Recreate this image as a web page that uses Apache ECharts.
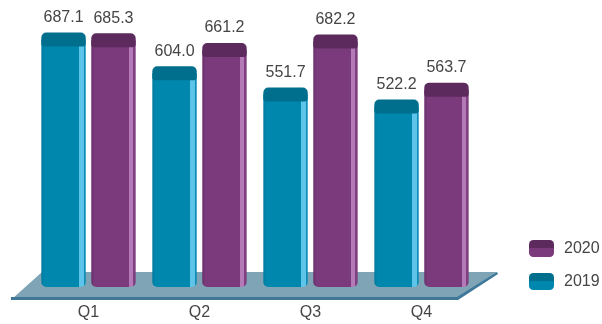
<!DOCTYPE html>
<html>
<head>
<meta charset="utf-8">
<style>html,body{margin:0;padding:0;background:#fff}#c{width:602px;height:324px}</style>
<script src="https://cdn.jsdelivr.net/npm/echarts@6/dist/echarts.min.js"></script>
</head>
<body>
<div id="c"></div>
<script>
var categories = ['Q1', 'Q2', 'Q3', 'Q4'];
var values2019 = [687.1, 604.0, 551.7, 522.2];
var values2020 = [685.3, 661.2, 682.2, 563.7];
var legendNames = ['2020', '2019'];

var G = echarts.graphic;
var textColor = '#454545';
var font = '"Liberation Sans", Arial, sans-serif';

function bodyFill(c) {
  return new G.LinearGradient(0, 0, 1, 0, [
    {offset: 0, color: c.edge}, {offset: 0.07, color: c.body},
    {offset: 0.84, color: c.body}, {offset: 0.84, color: c.strip},
    {offset: 0.95, color: c.strip}, {offset: 0.95, color: c.right},
    {offset: 1, color: c.right}
  ]);
}
function legendFill(c) {
  return new G.LinearGradient(0, 0, 0, 1, [
    {offset: 0, color: c.cap}, {offset: 0.45, color: c.cap},
    {offset: 0.45, color: c.body}, {offset: 1, color: c.body}
  ]);
}
var teal = {body: '#0087AD', edge: '#007A9E', strip: '#5FC4EA', right: '#0C8DB8', cap: '#006F8D'};
var purple = {body: '#7A3A7B', edge: '#6A2F6C', strip: '#B47AB8', right: '#7F3F80', cap: '#5D2A5E'};

function barRenderer(c, dir) {
  return function (params, api) {
    var idx = api.value(0), val = api.value(1);
    var band = api.size([1, 0])[0];
    var w = band * 0.4;
    var cx = api.coord([idx, 0])[0] + dir * band * 0.225;
    var top = api.coord([idx, val])[1];
    var bottom = params.coordSys.y + params.coordSys.height;
    var x = cx - w / 2;
    return {
      type: 'group',
      children: [
        {type: 'rect', shape: {x: x, y: top + 7, width: w, height: bottom - top - 7, r: [0, 0, 5, 5]},
          style: {fill: bodyFill(c)}},
        {type: 'rect', shape: {x: x, y: top, width: w, height: 14, r: [5, 5, 3, 3]}, style: {fill: c.cap}},
        {type: 'text', x: cx, y: top - 15,
          style: {text: val.toFixed(1), fill: textColor, font: '16px ' + font, align: 'center', verticalAlign: 'middle'}}
      ]
    };
  };
}

function floorRenderer(params) {
  var s = params.coordSys, l = s.x, r = s.x + s.width, b = s.y + s.height;
  return {
    type: 'group',
    children: [
      {type: 'polygon', shape: {points: [[l - 21, b + 12], [l + 9, b - 15], [r + 20, b - 15], [r - 20, b + 13], [r - 20, b + 12]]},
        style: {fill: '#7FA4B5'}},
      {type: 'polygon', shape: {points: [[l - 22, b + 10], [r - 20, b + 10], [r + 20, b - 15], [r + 21, b - 13], [r - 19, b + 13], [l - 22, b + 13]]},
        style: {fill: '#40789A'}}
    ]
  };
}

function series(name, vals, c, dir) {
  return {
    type: 'custom', name: name, coordinateSystem: 'cartesian2d', clip: false, z: 3,
    itemStyle: {color: legendFill(c)},
    encode: {x: 0, y: 1},
    data: vals.map(function (v, i) { return [i, v]; }),
    renderItem: barRenderer(c, dir)
  };
}

var chart = echarts.init(document.getElementById('c'), null, {renderer: 'canvas'});
chart.setOption({
  animation: false,
  backgroundColor: '#fff',
  grid: {left: 33, top: 3, width: 444, height: 284},
  xAxis: {
    type: 'category', data: categories, z: 5,
    axisLine: {show: false}, axisTick: {show: false},
    axisLabel: {color: textColor, fontSize: 16, fontFamily: font, margin: 18}
  },
  yAxis: {type: 'value', min: 60, max: 760, interval: 20, show: false, splitLine: {show: false}},
  legend: {
    data: legendNames, orient: 'vertical', left: 529, top: 240,
    itemWidth: 25, itemHeight: 17, itemGap: 16, icon: 'roundRect',
    textStyle: {color: textColor, fontSize: 16, fontFamily: font, padding: [0, 0, 0, 5]},
    padding: 0
  },
  series: [
    {type: 'custom', name: 'floor', coordinateSystem: 'cartesian2d', clip: false, z: 1,
      silent: true, data: [[0, 60]], encode: {x: 0, y: 1}, renderItem: floorRenderer},
    series('2019', values2019, teal, -1),
    series('2020', values2020, purple, 1)
  ]
});
</script>
</body>
</html>
